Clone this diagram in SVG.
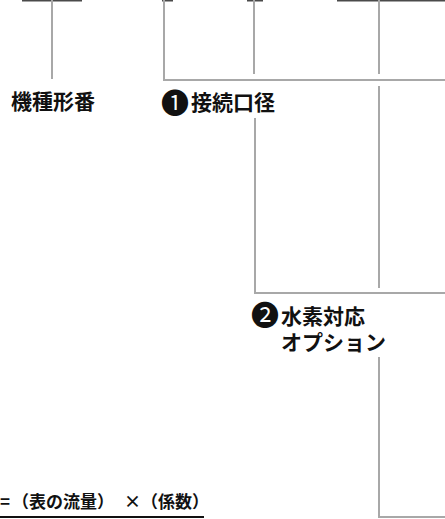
<svg xmlns="http://www.w3.org/2000/svg" width="445" height="519" viewBox="0 0 445 519">
<style>
.bar{fill:#4a4a4a}
.ln{fill:none;stroke:#a8a8a8;stroke-width:2}
.lbl{font-family:"Noto Sans CJK JP","Noto Sans",sans-serif;font-size:21px;font-weight:700;fill:#111}
.num{font-family:"Noto Sans CJK JP","DejaVu Sans",sans-serif;font-size:28px;font-weight:400;fill:#111}
.fm{font-family:"Noto Sans CJK JP","Noto Sans",sans-serif;font-size:17px;font-weight:700;fill:#111}
</style>
<rect width="445" height="519" fill="#fff"/>
<g id="top-bars">
<rect class="bar" x="22" y="0" width="60" height="1.5"/>
<rect class="bar" x="162" y="0" width="11" height="1.5"/>
<rect class="bar" x="247" y="0" width="16" height="1.5"/>
<rect class="bar" x="337" y="0" width="108" height="1.5"/>
</g>
<g id="connectors">
<line class="ln" x1="52" y1="0" x2="52" y2="79"/>
<polyline class="ln" points="164,0 164,80 445,80"/>
<line class="ln" x1="254" y1="0" x2="254" y2="74"/>
<line class="ln" x1="379" y1="0" x2="379" y2="74"/>
<line class="ln" x1="379" y1="86" x2="379" y2="288"/>
<polyline class="ln" points="255,118 255,293 445,293"/>
<polyline class="ln" points="379,357 379,517 445,517"/>
</g>
<g id="node-model">
<text class="lbl" x="11" y="109">機種形番</text>
</g>
<g id="node-port">
<text class="lbl" x="164" y="110"><tspan class="num" x="175" y="114" text-anchor="middle">❶</tspan><tspan x="191" y="110">接続口径</tspan></text>
</g>
<g id="node-h2">
<text class="lbl" x="254" y="324"><tspan class="num" x="265" y="326" text-anchor="middle">❷</tspan><tspan x="281" y="324">水素対応</tspan></text>
<text class="lbl" x="281" y="350">オプション</text>
</g>
<g id="formula">
<text class="fm" y="508" x="0 12 29 46 63 80 97 124 141 158 175 192">=（表の流量）×（係数）</text>
<line x1="0" y1="517" x2="204" y2="517" stroke="#111" stroke-width="2"/>
</g>
</svg>
